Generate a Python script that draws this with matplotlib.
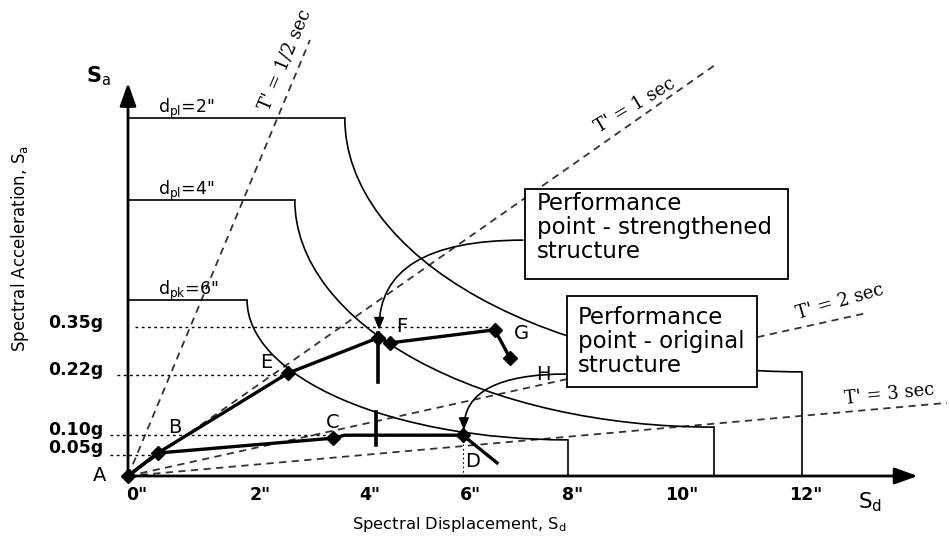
import matplotlib
matplotlib.use("Agg")
import matplotlib.pyplot as plt
from matplotlib.patches import Arc, Rectangle, FancyArrowPatch

# ---------------- data (schematic positions: Sd in inches, Sa in g) ----------------
# Original structure capacity curve A-B-C-D
orig_sd = [0.0, 0.53, 3.65, 3.86, 5.96, 6.57]
orig_sa = [0.0, 0.054, 0.089, 0.096, 0.096, 0.031]
orig_mk_sd = [0.0, 0.53, 3.65, 5.96]
orig_mk_sa = [0.0, 0.054, 0.089, 0.096]

# Strengthened structure capacity curve A-B-E-F-G
str_sd = [0.0, 0.53, 2.65, 2.85, 4.45, 4.66, 6.53, 6.80]
str_sa = [0.0, 0.054, 0.226, 0.242, 0.325, 0.313, 0.344, 0.278]
str_mk_sd = [2.85, 4.45, 4.66, 6.53, 6.80]
str_mk_sa = [0.242, 0.325, 0.313, 0.344, 0.278]

# Point labels
pt_names = ["A", "B", "C", "D", "E", "F", "G", "H"]
pt_sd = [-0.50, 0.84, 3.65, 6.14, 2.47, 4.88, 7.01, 7.39]
pt_sa = [0.002, 0.113, 0.127, 0.033, 0.268, 0.351, 0.336, 0.238]

# Demand spectra (plateau level, plateau end, displacement cut-off)
dem_labels = ['d$_{\\rm pl}$=2"', 'd$_{\\rm pl}$=4"', 'd$_{\\rm pk}$=6"']
dem_plateau_sa = [0.842, 0.649, 0.414]
dem_plateau_end = [3.86, 2.97, 2.12]
dem_cut_sd = [12.0, 10.43, 7.83]
dem_cut_sa = [0.245, 0.115, 0.085]

# Constant period lines (radial from origin)
per_labels = ["T' = 1/2 sec", "T' = 1 sec", "T' = 2 sec", "T' = 3 sec"]
per_end_sd = [3.24, 10.45, 13.17, 14.58]
per_end_sa = [1.026, 0.967, 0.384, 0.172]
per_lab_sd = [2.80, 9.03, 12.68, 13.55]
per_lab_sa = [0.980, 0.873, 0.409, 0.193]
per_lab_rot = [67, 31, 16, 6]

# Sa reference levels (dotted)
ref_labels = ["0.35g", "0.22g", "0.10g", "0.05g"]
ref_sa = [0.351, 0.238, 0.096, 0.049]
ref_start = [0.12, -0.20, -0.32, -0.32]
ref_end = [6.45, 2.85, 5.96, 0.53]
ref_lab_sa = [0.360, 0.249, 0.108, 0.066]

# X tick labels
xtick_labels = ['0"', '2"', '4"', '6"', '8"', '10"', '12"']
xtick_pos = [0.16, 2.35, 4.31, 6.09, 7.91, 9.86, 12.07]

# Performance-point tick bars
bar_sd = [4.42, 4.45]
bar_lo = [0.073, 0.221]
bar_hi = [0.151, 0.336]

# ---------------- figure ----------------
fig = plt.figure(figsize=(9.49, 5.36), dpi=100)
ax = fig.add_axes([0, 0, 1, 1])
ax.set_xlim(-2.279, 14.617)
ax.set_ylim(-0.1412, 1.12)
ax.axis("off")

SANS = ["DejaVu Sans"]
SERIF = ["DejaVu Serif"]

# axes with arrows
ax.annotate("", xy=(0, 0.925), xytext=(0, 0),
            arrowprops=dict(arrowstyle="-|>,head_length=0.7,head_width=0.25",
                            lw=2.0, color="k", mutation_scale=20, shrinkA=0, shrinkB=0))
ax.annotate("", xy=(14.06, 0), xytext=(0, 0),
            arrowprops=dict(arrowstyle="-|>,head_length=0.7,head_width=0.25",
                            lw=2.0, color="k", mutation_scale=20, shrinkA=0, shrinkB=0))

# demand spectra
for lab, y0, x0, x1, y1 in zip(dem_labels, dem_plateau_sa, dem_plateau_end, dem_cut_sd, dem_cut_sa):
    ax.plot([0, x0], [y0, y0], color="k", lw=1.2, zorder=2)
    ax.add_patch(Arc((x1, y0), 2 * (x1 - x0), 2 * (y0 - y1), theta1=180, theta2=270,
                     color="k", lw=1.2, zorder=2))
    ax.plot([x1, x1], [y1, 0], color="k", lw=1.2, zorder=2)
    ax.text(0.53, y0 + 0.012, lab, fontsize=12.5, family=SANS, ha="left", va="baseline", zorder=5)

# constant period lines
for lab, xe, ye, lx, ly, rot in zip(per_labels, per_end_sd, per_end_sa, per_lab_sd, per_lab_sa, per_lab_rot):
    ax.plot([0, xe], [0, ye], color="#333333", lw=1.3, ls=(0, (4, 3)), zorder=1)
    ax.text(lx, ly, lab, fontsize=13, family=SERIF, rotation=rot, rotation_mode="anchor",
            ha="center", va="center", zorder=5)

# dotted reference lines and y labels
for lab, y, xs, xe, ly in zip(ref_labels, ref_sa, ref_start, ref_end, ref_lab_sa):
    ax.plot([xs, xe], [y, y], color="k", lw=1.0, ls=(0, (2, 2.5)), zorder=1)
    ax.text(-0.445, ly, lab, fontsize=12.5, fontweight="bold", family=SANS,
            ha="right", va="center")

# vertical dotted under D
ax.plot([orig_mk_sd[3], orig_mk_sd[3]], [orig_mk_sa[3], 0], color="k", lw=0.8,
        ls=(0, (1.5, 2.5)), zorder=1)

# capacity curves
ax.plot(orig_sd, orig_sa, color="k", lw=2.4, zorder=4, solid_joinstyle="miter")
ax.plot(str_sd, str_sa, color="k", lw=2.4, zorder=4, solid_joinstyle="miter")
ax.plot(orig_mk_sd, orig_mk_sa, ls="none", marker="D", ms=7.5, color="k", zorder=6)
ax.plot(str_mk_sd, str_mk_sa, ls="none", marker="D", ms=7.5, color="k", zorder=6)

for x, lo, hi in zip(bar_sd, bar_lo, bar_hi):
    ax.plot([x, x], [lo, hi], color="k", lw=2.6, zorder=4)

for n, x, y in zip(pt_names, pt_sd, pt_sa):
    ax.text(x, y, n, fontsize=14, family=SANS, ha="center", va="center", zorder=7)

# text boxes
boxes = [
    ((7.07, 0.464), 4.68, 0.211, (7.28, 0.668), "Performance\npoint - strengthened\nstructure"),
    ((7.82, 0.209), 3.38, 0.215, (8.01, 0.400), "Performance\npoint - original\nstructure"),
]
for (bx, by), bw, bh, (tx, ty), txt in boxes:
    ax.add_patch(Rectangle((bx, by), bw, bh, facecolor="white", edgecolor="k", lw=1.3, zorder=8))
    ax.text(tx, ty, txt, fontsize=16.5, family=SANS, ha="left", va="top",
            linespacing=1.05, zorder=9)

# arrows from boxes to performance points
arr1 = FancyArrowPatch((7.03, 0.555), (4.47, 0.344),
                       connectionstyle="angle3,angleA=0,angleB=90",
                       arrowstyle="-|>,head_length=0.6,head_width=0.25", mutation_scale=12,
                       lw=1.2, color="k", zorder=5, shrinkA=0, shrinkB=0)
arr2 = FancyArrowPatch((7.82, 0.24), (5.98, 0.108),
                       connectionstyle="angle3,angleA=0,angleB=90",
                       arrowstyle="-|>,head_length=0.6,head_width=0.25", mutation_scale=12,
                       lw=1.2, color="k", zorder=5, shrinkA=0, shrinkB=0)
ax.add_patch(arr1)
ax.add_patch(arr2)

# x tick labels
for lab, x in zip(xtick_labels, xtick_pos):
    ax.text(x, -0.045, lab, fontsize=12.5, fontweight="bold", family=SANS, ha="center", va="center")

# axis symbols and titles
ax.text(-0.53, 0.941, "S$_{\\rm a}$", fontsize=15, family=SANS, fontweight="bold",
        ha="center", va="center")
ax.text(13.21, -0.061, "S$_{\\rm d}$", fontsize=15.5, family=SANS, ha="center", va="center")
ax.text(5.89, -0.115, "Spectral Displacement, S$_{\\rm d}$", fontsize=11.8, family=SANS,
        ha="center", va="center")
ax.text(-1.92, 0.536, "Spectral Acceleration, S$_{\\rm a}$", fontsize=12, family=SANS,
        rotation=90, ha="center", va="center")

fig.savefig("out.png", dpi=100, facecolor="white")
